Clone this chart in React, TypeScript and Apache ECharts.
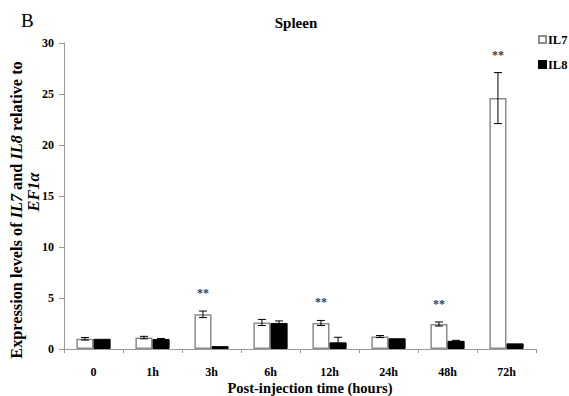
import React, { useEffect, useRef } from "react";
import * as echarts from "echarts";

const categories = ["0", "1h", "3h", "6h", "12h", "24h", "48h", "72h"];
const il7 = [1.0, 1.12, 3.4, 2.6, 2.55, 1.22, 2.45, 24.6];
const il7Err = [0.12, 0.12, 0.32, 0.3, 0.25, 0.1, 0.2, 2.5];
const il8 = [1.0, 0.98, 0.28, 2.55, 0.65, 1.05, 0.8, 0.55];
const il8Err = [0, 0.05, 0, 0.2, 0.5, 0, 0.05, 0];
const significance = ["", "", "**", "", "**", "", "**", "**"];

const SERIF = "'Liberation Serif', 'Times New Roman', serif";

export default function App() {
  const ref = useRef<HTMLDivElement>(null);
  useEffect(() => {
    if (!ref.current) return;
    const chart = echarts.init(ref.current, null, { renderer: "svg" });
    const OFF = 0.145;
    const errData: any[] = [];
    categories.forEach((_, i) => {
      errData.push([i, il7[i], il7Err[i], -1]);
      if (il8Err[i] > 0) errData.push([i, il8[i], il8Err[i], 1]);
    });
    const sigData = categories.map((_, i) => [i, il7[i] + il7Err[i]]);
    chart.setOption({
      animation: false,
      grid: { left: 64, right: 33, top: 43, bottom: 47 },
      legend: {
        data: ["IL7", "IL8"],
        orient: "vertical",
        left: 533,
        top: 28,
        itemWidth: 7,
        itemHeight: 7,
        itemGap: 12,
        icon: "rect",
        textStyle: { fontFamily: SERIF, fontWeight: "bold", fontSize: 12.5, color: "#000", padding: [0, 0, 0, -3] },
      },
      xAxis: {
        type: "category",
        data: categories,
        axisLine: { lineStyle: { color: "#9a9a9a", width: 1 } },
        axisTick: { show: true, length: 4, lineStyle: { color: "#9a9a9a" } },
        axisLabel: { margin: 17, fontFamily: SERIF, fontWeight: "bold", fontSize: 12, color: "#000" },
      },
      yAxis: {
        type: "value",
        min: 0,
        max: 30,
        interval: 5,
        splitLine: { show: false },
        axisLine: { show: true, lineStyle: { color: "#9a9a9a", width: 1 } },
        axisTick: { show: true, length: 5, lineStyle: { color: "#9a9a9a" } },
        axisLabel: { margin: 10, fontFamily: SERIF, fontWeight: "bold", fontSize: 12, color: "#000" },
      },
      series: [
        {
          name: "IL7",
          type: "bar",
          data: il7,
          barWidth: "29%",
          barGap: "0%",
          itemStyle: { color: "#ffffff", borderColor: "#8c8c8c", borderWidth: 1.5 },
        },
        {
          name: "IL8",
          type: "bar",
          data: il8,
          barWidth: "29%",
          barGap: "0%",
          itemStyle: { color: "#000000", borderColor: "#000000", borderWidth: 1 },
        },
        {
          name: "err",
          type: "custom",
          data: errData,
          z: 10,
          itemStyle: { color: "#000" },
          renderItem: (params: any, api: any) => {
            const i = api.value(0);
            const v = api.value(1);
            const e = api.value(2);
            const side = api.value(3);
            const bw = api.size([1, 0])[0];
            const x = api.coord([i, v])[0] + side * bw * OFF;
            const top = api.coord([i, v + e])[1];
            const bot = api.coord([i, v - e])[1];
            const cap = 4;
            const st = { stroke: "#000", lineWidth: 1 };
            return {
              type: "group",
              children: [
                { type: "line", shape: { x1: x, y1: top, x2: x, y2: bot }, style: st },
                { type: "line", shape: { x1: x - cap, y1: top, x2: x + cap, y2: top }, style: st },
                { type: "line", shape: { x1: x - cap, y1: bot, x2: x + cap, y2: bot }, style: st },
              ],
            };
          },
        },
        {
          name: "sig",
          type: "scatter",
          data: sigData,
          symbolSize: 0,
          z: 10,
          itemStyle: { color: "#000" },
          label: {
            show: true,
            position: "top",
            distance: 12,
            offset: [-8.5, 0],
            color: "#000",
            fontFamily: SERIF,
            fontWeight: "bold",
            fontSize: 12,
            formatter: (p: any) => significance[p.dataIndex],
          },
        },
      ],
      graphic: [
        {
          type: "text",
          left: 21,
          top: 11,
          style: { text: "B", fontFamily: SERIF, fontSize: 19, fill: "#000" },
        },
        {
          type: "text",
          x: 296,
          y: 23,
          style: {
            text: "Spleen",
            fontFamily: SERIF,
            fontWeight: "bold",
            fontSize: 15,
            fill: "#000",
            align: "center",
            verticalAlign: "middle",
          },
        },
        {
          type: "text",
          x: 310,
          y: 388,
          style: {
            text: "Post-injection time (hours)",
            fontFamily: SERIF,
            fontWeight: "bold",
            fontSize: 14.5,
            fill: "#000",
            align: "center",
            verticalAlign: "middle",
          },
        },
        {
          type: "text",
          x: 16,
          y: 210,
          rotation: Math.PI / 2,
          style: {
            text: "Expression levels of {i|IL7} and {i|IL8} relative to",
            fontFamily: SERIF,
            fontWeight: "bold",
            fontSize: 16.3,
            fill: "#000",
            align: "center",
            verticalAlign: "middle",
            rich: {
              i: { fontFamily: SERIF, fontWeight: "bold", fontStyle: "italic", fontSize: 16.3, fill: "#000" },
            },
          },
        },
        {
          type: "text",
          x: 33,
          y: 192,
          rotation: Math.PI / 2,
          style: {
            text: "EF1α",
            fontFamily: SERIF,
            fontWeight: "bold",
            fontStyle: "italic",
            fontSize: 16.3,
            fill: "#000",
            align: "center",
            verticalAlign: "middle",
          },
        },
      ],
    });
    return () => chart.dispose();
  }, []);
  return <div ref={ref} style={{ width: 569, height: 396, position: "absolute", left: 0, top: 0 }} />;
}
